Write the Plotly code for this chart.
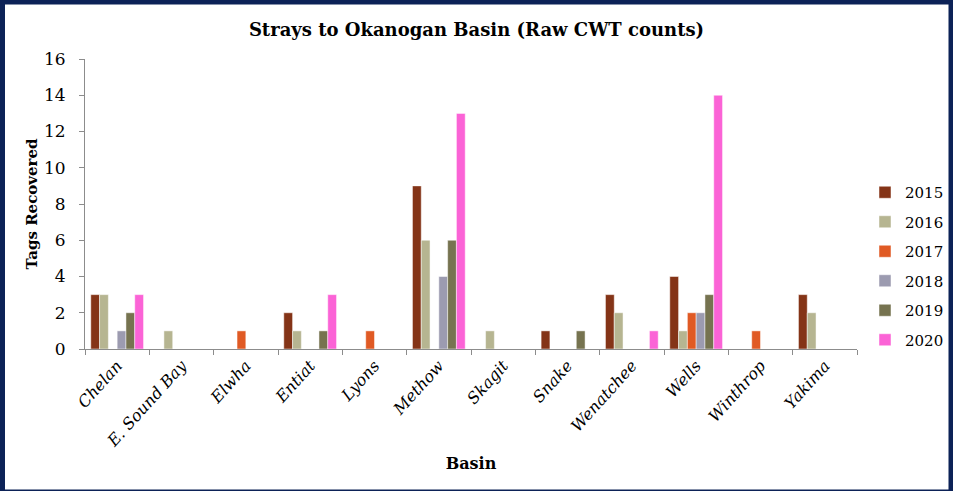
import plotly.graph_objects as go

basins = ["Chelan", "E. Sound Bay", "Elwha", "Entiat", "Lyons", "Methow",
          "Skagit", "Snake", "Wenatchee", "Wells", "Winthrop", "Yakima"]

years = ["2015", "2016", "2017", "2018", "2019", "2020"]

counts_2015 = [3, 0, 0, 2, 0, 9, 0, 1, 3, 4, 0, 3]
counts_2016 = [3, 1, 0, 1, 0, 6, 1, 0, 2, 1, 0, 2]
counts_2017 = [0, 0, 1, 0, 1, 0, 0, 0, 0, 2, 1, 0]
counts_2018 = [1, 0, 0, 0, 0, 4, 0, 0, 0, 2, 0, 0]
counts_2019 = [2, 0, 0, 1, 0, 6, 0, 1, 0, 3, 0, 0]
counts_2020 = [3, 0, 0, 3, 0, 13, 0, 0, 1, 14, 0, 0]

series = [counts_2015, counts_2016, counts_2017, counts_2018, counts_2019, counts_2020]
colours = ["#843417", "#b6b591", "#e05a24", "#9c9bb0", "#767350", "#fb63d6"]

FONT = "DejaVu Serif"
W, H = 953, 491
L, R, T, B = 85, 96, 59, 142

fig = go.Figure()
for yr, vals, col in zip(years, series, colours):
    # Excel leaves zero counts blank, so drop them from the drawing
    fig.add_trace(go.Bar(
        x=basins, y=[v if v else None for v in vals], name=yr, legendgroup=yr,
        marker=dict(color=col, line=dict(color="rgba(255,255,255,0.6)", width=0.8)),
    ))

# navy frame round the whole picture (pixel -> paper coords)
pw, ph = W - L - R, H - T - B
px = lambda p: (p - L) / pw
py = lambda p: 1 - (p - T) / ph
fig.add_shape(type="rect", xref="paper", yref="paper",
              x0=px(2.5), x1=px(W - 2), y0=py(H + 1), y1=py(2),
              line=dict(color="#0c2257", width=5), layer="above")

fig.update_layout(
    width=W, height=H,
    margin=dict(l=L, r=R, t=T, b=B, autoexpand=False),
    paper_bgcolor="white", plot_bgcolor="white",
    barmode="group", bargap=0.18, bargroupgap=0,
    title=dict(text="<b>Strays to Okanogan Basin (Raw CWT counts)</b>",
               x=0.5, xanchor="center", y=1 - 30 / H, yanchor="middle",
               font=dict(family=FONT, size=18, color="black")),
    font=dict(family=FONT, color="black"),
    xaxis=dict(
        tickangle=-48, tickfont=dict(family=FONT, size=16, style="italic"),
        showline=True, linecolor="#8c8c8c", linewidth=1,
        ticks="outside", tickson="boundaries", ticklen=5, tickcolor="#8c8c8c",
        title=dict(text="<b>Basin</b>", font=dict(family=FONT, size=16), standoff=8),
    ),
    yaxis=dict(
        range=[0, 16], dtick=2, showgrid=False, zeroline=False,
        showline=True, linecolor="#8c8c8c", linewidth=1,
        ticks="outside", ticklen=5, tickcolor="#8c8c8c", ticklabelstandoff=10,
        tickfont=dict(family=FONT, size=17),
        title=dict(text="<b>Tags Recovered</b>", font=dict(family=FONT, size=15), standoff=2),
    ),
    legend=dict(x=px(865), y=py(266), yanchor="middle", xanchor="left",
                bgcolor="rgba(0,0,0,0)",
                font=dict(family=FONT, size=15), itemwidth=30, tracegroupgap=7),
)

fig.write_html("out.html", config={"displayModeBar": False},
               post_script="document.body.style.margin='0';")
